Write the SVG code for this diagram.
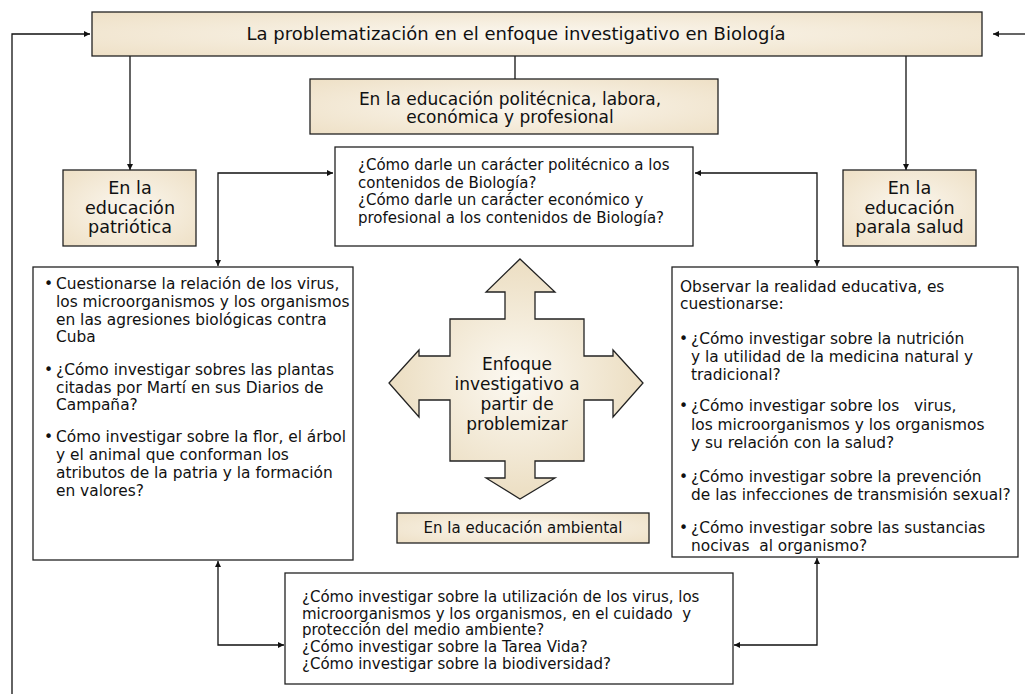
<svg xmlns="http://www.w3.org/2000/svg" width="1025" height="694" viewBox="0 0 1025 694">
<style>
text{font-family:"DejaVu Sans","Liberation Sans",sans-serif;fill:#111}
.t14{font-size:15px}
.t15{font-size:15.4px}
.t16{font-size:17px}
.t17{font-size:17.6px}
.t18{font-size:18px}
.tc{font-size:17px}
.mid{text-anchor:middle}
.beige{fill:url(#bg);stroke:#222;stroke-width:1.3}
.white{fill:#fff;stroke:#222;stroke-width:1.3}
.con{fill:none;stroke:#111;stroke-width:1.3}
</style>
<defs>
<radialGradient id="bg" cx="50%" cy="50%" r="70%">
<stop offset="0" stop-color="#fbf7ef"/>
<stop offset="1" stop-color="#eee0c6"/>
</radialGradient>
<radialGradient id="cg" cx="50%" cy="50%" r="55%">
<stop offset="0" stop-color="#fcf9f2"/>
<stop offset="1" stop-color="#eadbbd"/>
</radialGradient>
<marker id="ah" viewBox="0 0 10 10" refX="10" refY="5" markerWidth="7" markerHeight="6" markerUnits="userSpaceOnUse" orient="auto-start-reverse">
<path d="M0,0 L10,5 L0,10 z" fill="#111"/>
</marker>
</defs>

<g id="connectors">
<path class="con" d="M12,694 L12,34 L90,34" marker-end="url(#ah)"/>
<path class="con" d="M1025,34 L993,34" marker-end="url(#ah)"/>
<path class="con" d="M130,56 L130,170" marker-end="url(#ah)"/>
<path class="con" d="M515,56 L515,80"/>
<path class="con" d="M906,56 L906,170" marker-end="url(#ah)"/>
<path class="con" d="M218,266 L218,173 L333,173" marker-start="url(#ah)" marker-end="url(#ah)"/>
<path class="con" d="M817,266 L817,173 L695,173" marker-start="url(#ah)" marker-end="url(#ah)"/>
<path class="con" d="M218,561 L218,645 L284,645" marker-start="url(#ah)" marker-end="url(#ah)"/>
<path class="con" d="M817,558 L817,645 L734,645" marker-start="url(#ah)" marker-end="url(#ah)"/>
</g>

<g id="title">
<rect class="beige" x="92" y="12" width="890" height="44"/>
<text class="t18 mid" x="516" y="40">La problematización en el enfoque investigativo en Biología</text>
</g>

<g id="politecnica">
<rect class="beige" x="310" y="79" width="408" height="55"/>
<text class="t16 mid" x="510" y="105">En la educación politécnica, labora,</text>
<text class="t16 mid" x="510" y="123">económica y profesional</text>
</g>

<g id="patriotica">
<rect class="beige" x="63" y="170" width="133" height="76"/>
<text class="t17 mid" x="130" y="194">En la</text>
<text class="t17 mid" x="130" y="214">educación</text>
<text class="t17 mid" x="130" y="233">patriótica</text>
</g>

<g id="salud">
<rect class="beige" x="843" y="170" width="133" height="76"/>
<text class="t17 mid" x="909.5" y="194">En la</text>
<text class="t17 mid" x="909.5" y="214">educación</text>
<text class="t17 mid" x="909.5" y="233">parala salud</text>
</g>

<g id="q-politecnica">
<rect class="white" x="335" y="147" width="358" height="99"/>
<text class="t14" x="358" y="170">¿Cómo darle un carácter politécnico a los</text>
<text class="t14" x="358" y="188">contenidos de Biología?</text>
<text class="t14" x="358" y="205">¿Cómo darle un carácter económico y</text>
<text class="t14" x="358" y="223">profesional a los contenidos de Biología?</text>
</g>

<g id="q-patriotica">
<rect class="white" x="33" y="267" width="320" height="293"/>
<text class="t15" x="44" y="289">•</text>
<text class="t15" x="56" y="289">Cuestionarse la relación de los virus,</text>
<text class="t15" x="56" y="307">los microorganismos y los organismos</text>
<text class="t15" x="56" y="325">en las agresiones biológicas contra</text>
<text class="t15" x="56" y="342">Cuba</text>
<text class="t15" x="44" y="375">•</text>
<text class="t15" x="56" y="375">¿Cómo investigar sobres las plantas</text>
<text class="t15" x="56" y="393">citadas por Martí en sus Diarios de</text>
<text class="t15" x="56" y="410">Campaña?</text>
<text class="t15" x="44" y="442">•</text>
<text class="t15" x="56" y="442">Cómo investigar sobre la flor, el árbol</text>
<text class="t15" x="56" y="460">y el animal que conforman los</text>
<text class="t15" x="56" y="478">atributos de la patria y la formación</text>
<text class="t15" x="56" y="496">en valores?</text>
</g>

<g id="q-salud">
<rect class="white" x="672" y="267" width="346" height="290"/>
<text class="t15" x="680" y="292">Observar la realidad educativa, es</text>
<text class="t15" x="680" y="309">cuestionarse:</text>
<text class="t15" x="679" y="344">•</text>
<text class="t15" x="691" y="344">¿Cómo investigar sobre la nutrición</text>
<text class="t15" x="691" y="362">y la utilidad de la medicina natural y</text>
<text class="t15" x="691" y="380">tradicional?</text>
<text class="t15" x="679" y="411">•</text>
<text class="t15" x="691" y="411" xml:space="preserve">¿Cómo investigar sobre los   virus,</text>
<text class="t15" x="691" y="430">los microorganismos y los organismos</text>
<text class="t15" x="691" y="448">y su relación con la salud?</text>
<text class="t15" x="679" y="482">•</text>
<text class="t15" x="691" y="482">¿Cómo investigar sobre la prevención</text>
<text class="t15" x="691" y="500">de las infecciones de transmisión sexual?</text>
<text class="t15" x="679" y="533">•</text>
<text class="t15" x="691" y="533">¿Cómo investigar sobre las sustancias</text>
<text class="t15" x="691" y="551" xml:space="preserve">nocivas  al organismo?</text>
</g>

<g id="enfoque">
<polygon fill="url(#cg)" stroke="#222" stroke-width="1.3" points="520,259 555,292 535,292 535,319 584,319 584,356 613,356 613,350 643,383 613,417 613,400 584,400 584,461 535,461 535,478 555,478 520,499 486,478 505,478 505,461 450,461 450,400 419,400 419,417 389,383 419,350 419,356 450,356 450,319 505,319 505,292 486,292"/>
<text class="tc mid" x="517" y="370">Enfoque</text>
<text class="tc mid" x="517" y="390">investigativo a</text>
<text class="tc mid" x="517" y="410">partir de</text>
<text class="tc mid" x="517" y="430">problemizar</text>
</g>

<g id="ambiental">
<rect class="beige" x="397" y="513" width="252" height="30"/>
<text class="t14 mid" x="523" y="533">En la educación ambiental</text>
</g>

<g id="q-ambiental">
<rect class="white" x="285" y="573" width="448" height="111"/>
<text class="t14" x="302" y="602">¿Cómo investigar sobre la utilización de los virus, los</text>
<text class="t14" x="302" y="619" xml:space="preserve">microorganismos y los organismos, en el cuidado  y</text>
<text class="t14" x="302" y="635">protección del medio ambiente?</text>
<text class="t14" x="302" y="652">¿Cómo investigar sobre la Tarea Vida?</text>
<text class="t14" x="302" y="669">¿Cómo investigar sobre la biodiversidad?</text>
</g>
</svg>
